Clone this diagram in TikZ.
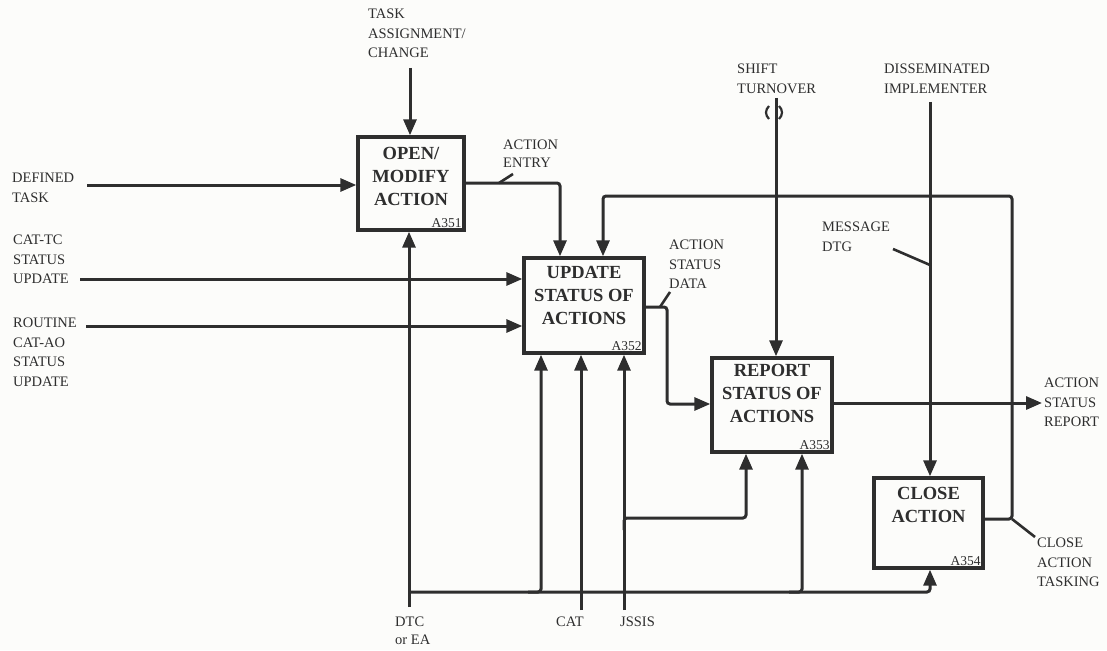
\documentclass[tikz,border=0pt]{standalone}
\usepackage{fontspec}
\setmainfont{Liberation Serif}
\usetikzlibrary{arrows.meta}
\definecolor{ink}{HTML}{2E2E2E}
\definecolor{paper}{HTML}{FCFCFA}
\begin{document}
\begin{tikzpicture}[x=1pt,y=-1pt,
  line/.style={draw=ink, line width=3pt, rounded corners=3pt},
  arr/.style={line, -{Triangle[length=16pt,width=13pt]}},
  box/.style={draw=ink, line width=3.4pt, inner sep=0pt},
  lbl/.style={text=ink, font=\fontsize{14.5}{19.5}\selectfont, align=left, inner sep=0pt, anchor=north west},
  title/.style={text=ink, font=\bfseries\fontsize{18.5}{23}\selectfont, align=center, inner sep=0pt, anchor=north},
  num/.style={text=ink, font=\fontsize{13.5}{13.5}\selectfont, inner sep=0pt, anchor=south east, xshift=-4pt, yshift=4pt},
  tick/.style={draw=ink, line width=2.6pt}
]
\fill[paper] (0,0) rectangle (1107,650);
\useasboundingbox (0,0) rectangle (1107,650);

% boxes
\node[box, minimum width=106pt, minimum height=93pt] (b1) at (411,183.5) {};
\node[box, minimum width=120pt, minimum height=95pt] (b2) at (584,305.5) {};
\node[box, minimum width=120pt, minimum height=94pt] (b3) at (772,405) {};
\node[box, minimum width=109pt, minimum height=90pt] (b4) at (928.5,523) {};

\node[title] (t1) at (411,147) {OPEN/\\MODIFY\\ACTION};
\node[title] (t2) at (584,266) {UPDATE\\STATUS OF\\ACTIONS};
\node[title] (t3) at (772,364) {REPORT\\STATUS OF\\ACTIONS};
\node[title] (t4) at (928.5,487) {CLOSE\\ACTION};

\node[num] (n1) at (b1.south east) {A351};
\node[num] (n2) at (b2.south east) {A352};
\node[num] (n3) at (b3.south east) {A353};
\node[num] (n4) at (b4.south east) {A354};

% labels
\node[lbl] (lTask) at (368,9) {TASK\\ASSIGNMENT/\\CHANGE};
\node[lbl] (lDef) at (12,173) {DEFINED\\TASK};
\node[lbl] (lCatTc) at (13,235) {CAT-TC\\STATUS\\UPDATE};
\node[lbl] (lRout) at (13,318) {ROUTINE\\CAT-AO\\STATUS\\UPDATE};
\node[lbl, font=\fontsize{14.5}{18}\selectfont] (lEntry) at (503,140) {ACTION\\ENTRY};
\node[lbl] (lShift) at (737,64) {SHIFT\\TURNOVER};
\node[lbl] (lDiss) at (884,64) {DISSEMINATED\\IMPLEMENTER};
\node[lbl] (lMsg) at (822,222) {MESSAGE\\DTG};
\node[lbl] (lData) at (669,240) {ACTION\\STATUS\\DATA};
\node[lbl] (lRep) at (1044,378) {ACTION\\STATUS\\REPORT};
\node[lbl] (lTasking) at (1037,538) {CLOSE\\ACTION\\TASKING};
\node[lbl, font=\fontsize{14.5}{18}\selectfont] (lDtc) at (395,617) {DTC\\or EA};
\node[lbl] (lCat) at (556,617) {CAT};
\node[lbl] (lJssis) at (620,617) {JSSIS};

% free ends
\coordinate (cTask) at (410,68);
\coordinate (cDef) at (87,185);
\coordinate (cCatTc) at (80,279);
\coordinate (cRout) at (86,326);
\coordinate (cShift) at (776,98);
\coordinate (cDiss) at (930,102);
\coordinate (cDtc) at (409,607);
\coordinate (cCat) at (581,610);
\coordinate (cJssis) at (624,610);
\coordinate (cOut) at (1042,403);

% inputs / controls
\draw[arr] (cTask) -- (cTask |- b1.north);
\draw[arr] (cDef) -- (cDef -| b1.west);
\draw[arr] (cCatTc) -- (cCatTc -| b2.west);
\draw[arr] (cRout) -- (cRout -| b2.west);
\draw[arr] (cShift) -- (cShift |- b3.north);
\draw[arr] (cDiss) -- (cDiss |- b4.north);

% A351 -> A352
\draw[arr] (b1.east |- 0,183) -- (560,183) -- (560,0 |- b2.north);
% A352 -> A353
\draw[arr] (b2.east |- 0,307) -- (667,307) |- (b3.west |- 0,404);
% A353 output
\draw[arr] (b3.east |- cOut) -- (cOut);
% feedback A354 -> A352
\draw[arr] (b4.east |- 0,519) -- (1012,519) -- (1012,196) -- (603,196) -- (603,0 |- b2.north);

% mechanisms
\draw[arr] (cDtc) -- (cDtc |- b1.south);
\draw[arr] (409,592) -| (930,0 |- b4.south);
\draw[arr] (528,592) -| (541,0 |- b2.south);
\draw[arr] (789,592) -| (802,0 |- b3.south);
\draw[arr] (cCat) -- (cCat |- b2.south);
\draw[arr] (cJssis) -- (cJssis |- b2.south);
\draw[arr] (624,530) |- (746,518) -- (746,0 |- b3.south);

% label ticks
\draw[tick] (499,183) -- (513,174);
\draw[tick] (660,307) -- (670,292);
\draw[tick] (893,249) -- (930,265);
\draw[tick] (1012,519) -- (1035,537);

% tunnel marks on SHIFT TURNOVER
\draw[ink, line width=2.2pt] (769,106) .. controls (765,110) and (765,115) .. (769,119);
\draw[ink, line width=2.2pt] (779,106) .. controls (783,110) and (783,115) .. (779,119);
\end{tikzpicture}
\end{document}
